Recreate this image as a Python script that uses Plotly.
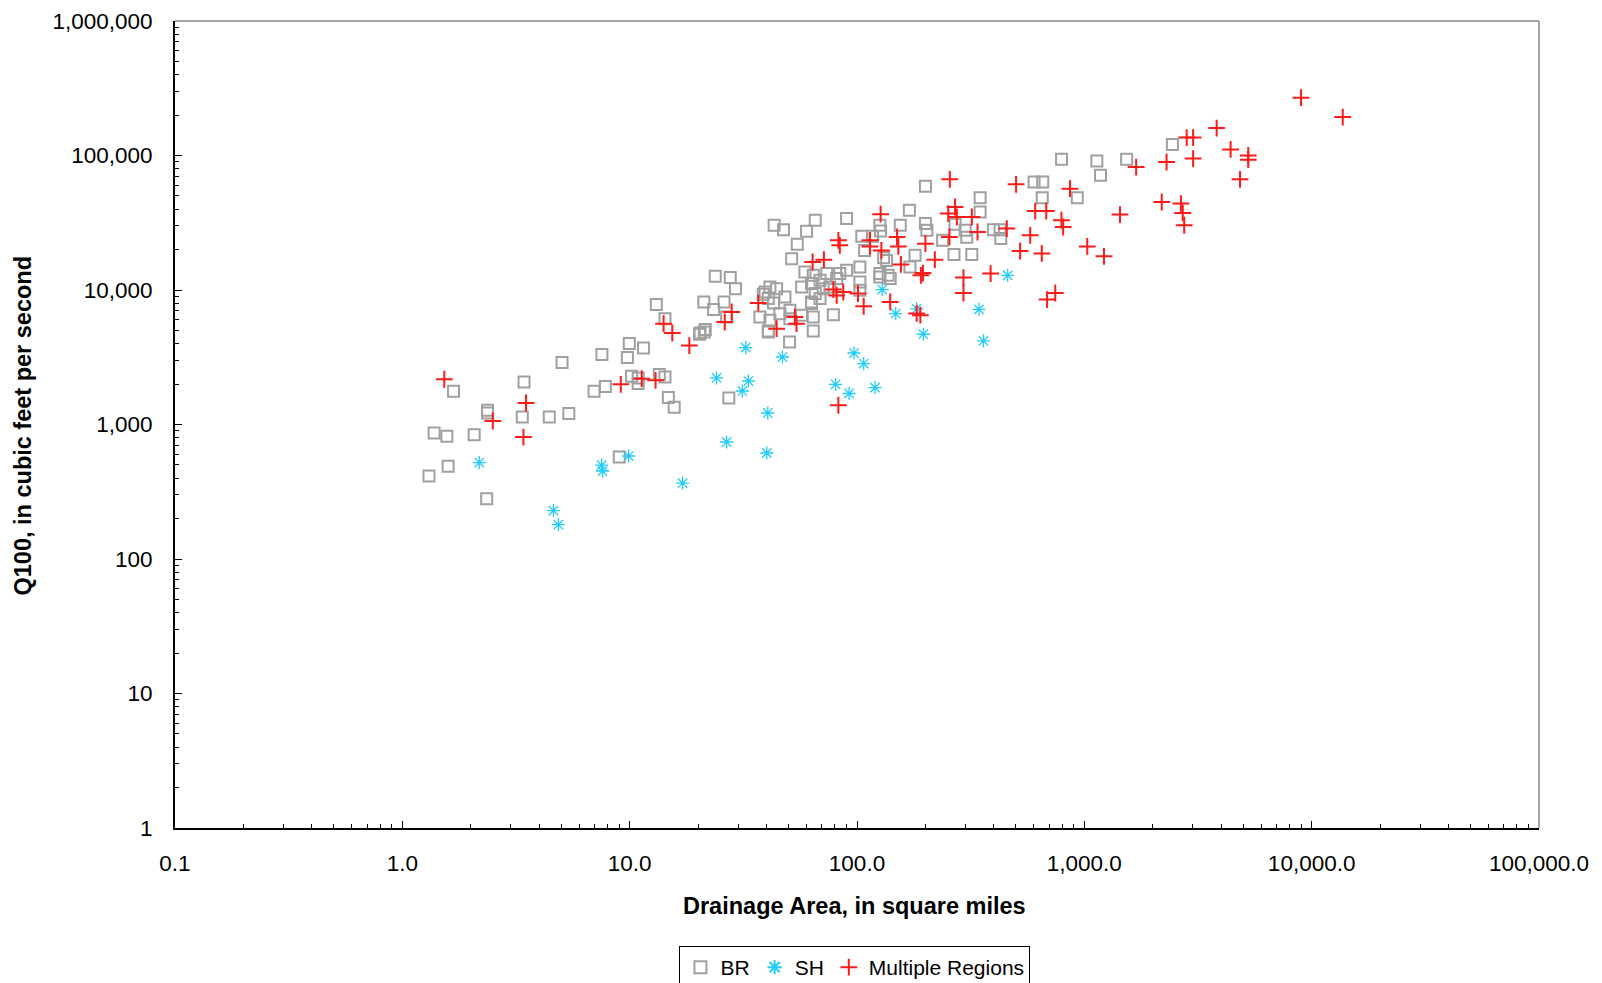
import plotly.graph_objects as go

# ---- data (drainage area sq mi, Q100 cfs) ----
br_area = [1.68, 2.37, 2.37, 3.43, 3.37, 4.43, 5.40, 5.04, 1.38, 1.57, 2.07, 1.31, 1.59, 2.35, 9.0,
           27.3, 50.5, 40.8, 7.55, 9.96, 11.5, 9.77, 6.97, 7.82, 10.2, 10.9, 10.9, 13.5, 14.3, 14.8,
           15.7, 20.3, 21.3, 13.1, 14.3,
           200, 601, 656, 1178, 653, 931, 348, 348, 170, 90, 65.5, 43.2, 47.5, 60, 54.6, 51.6,
           105, 117, 127, 126, 155, 200, 203, 299, 238, 398, 426, 429, 267, 320, 108, 131, 135,
           180, 171, 126, 137, 140, 126, 103, 103, 90, 84, 81.4, 73.6, 68.8, 64.2, 63.1, 59, 57.1,
           76, 71, 65.5, 68.8, 63.1, 103, 78.7, 64.2,
           23.8, 27.7, 29.2, 21.2, 23.4, 26, 20.4, 21.5, 26.7,
           39.4, 41.4, 44.3, 40.7, 42.9, 38.7, 48.2, 37.4, 41.4, 45.8, 40.7, 50.7, 57, 64.2, 63.1, 50.7,
           794, 1135, 1535, 2440, 270, 304]
br_q100 = [1766, 1276, 1220, 2070, 1137, 1137, 1205, 2886, 865, 817, 840, 414, 489, 281, 573,
           1574, 4105, 4877, 3311, 3994, 3703, 3143, 1766, 1914, 2280, 2218, 2018, 2350, 2255, 1585,
           1342, 4688, 4877, 7790, 6120,
           59000, 63500, 63500, 71300, 48600, 48600, 48600, 38000, 39100, 33950, 33000, 30300, 28100,
           27300, 21900, 17100,
           25100, 25100, 27500, 30300, 30300, 31200, 27800, 27800, 23400, 28100, 28100, 24100, 18400,
           18400, 19700, 17400, 16600,
           18100, 14800, 13250, 12850, 12150, 12500, 14800, 11450, 14000, 13250, 12150, 13250, 11800,
           12850, 11160, 13600, 10520,
           10520, 10230, 9400, 8630, 7920, 9950, 6560, 4960,
           12650, 12360, 10230, 8150, 7150, 8150, 4790, 5080, 6300,
           9660, 10520, 10230, 8630, 8000, 9300, 8870, 6300, 5950, 6670, 4960, 6120, 6490, 6300, 8150, 7060,
           93800, 91000, 93800, 120500, 30800, 24700]

sh_area = [2.18, 4.62, 4.86, 7.53, 7.60, 9.9, 17.1, 26.7, 40.1, 40.5, 32.4, 47, 24.1, 33.3, 31.3,
           460, 344, 360, 183, 196, 148, 129, 97, 107, 120, 80.5, 92.3]
sh_q100 = [521, 229, 180, 498, 451, 583, 366, 741, 614, 1218, 3730, 3175, 2218, 2105, 1775,
           12850, 7180, 4180, 7250, 4690, 6670, 10070, 3400, 2840, 1880, 1990, 1700]

mr_area = [1.53, 2.50, 3.50, 3.41, 9.14, 11.3, 13.0, 15.4, 18.3, 14.1,
           256, 501, 865, 270, 252, 275, 320, 339, 255, 608, 680, 793, 807, 456, 578, 522, 650, 1030,
           127, 200, 220, 150, 152, 114, 114, 128, 156, 191, 195, 294, 294, 387, 686, 745, 183, 190,
           140, 107, 101, 87, 78.7, 81.4, 82.8, 84, 71.5, 63.8, 53.3, 54.2, 44.3, 36.8, 28.1, 26.2, 82.8,
           8980, 13700, 3820, 2820, 3010, 4400, 5260, 5260, 3010, 2300, 1690, 4840, 2190, 2660, 2710,
           2750, 1435, 1220]
mr_q100 = [2170, 1062, 1445, 807, 1990, 2190, 2130, 4790, 3860, 5620,
           66500, 61100, 56700, 41400, 37000, 34900, 34900, 27000, 24800, 38600, 38600, 33000, 29400,
           28600, 25500, 19500, 18700, 21100,
           36600, 22100, 16800, 24800, 21100, 23400, 21100, 19700, 15500, 12850, 13360, 12360, 9500,
           13250, 8490, 9500, 6700, 6500,
           8150, 7570, 9400, 9660, 10070, 9120, 23400, 21500, 16800, 16150, 6300, 5620, 5160, 8000,
           6860, 5780, 1390,
           269000, 193000, 160000, 136000, 136000, 111000, 100000, 93100, 94800, 89500, 82000, 66500,
           45100, 43900, 37400, 30300, 36400, 17800]

x_tickvals = [0.1, 1, 10, 100, 1000, 10000, 100000]
x_ticktext = ["0.1", "1.0", "10.0", "100.0", "1,000.0", "10,000.0", "100,000.0"]
y_tickvals = [1, 10, 100, 1000, 10000, 100000, 1000000]
y_ticktext = ["1", "10", "100", "1,000", "10,000", "100,000", "1,000,000"]

FONT = "Liberation Sans, Arial, sans-serif"

fig = go.Figure()
fig.add_trace(go.Scatter(
    x=br_area, y=br_q100, mode="markers", name="BR",
    marker=dict(symbol="square-open", size=11, color="#a0a0a0", line=dict(width=2, color="#a0a0a0"))))
fig.add_trace(go.Scatter(
    x=sh_area, y=sh_q100, mode="markers", name="SH",
    marker=dict(symbol="asterisk-open", size=11, color="#22ccff", line=dict(width=1.3, color="#22ccff"))))
fig.add_trace(go.Scatter(
    x=mr_area, y=mr_q100, mode="markers", name="Multiple Regions",
    marker=dict(symbol="cross-thin-open", size=12, color="#ff1a1a", line=dict(width=2, color="#ff1a1a"))))

axis_common = dict(
    type="log", showgrid=False, zeroline=False, showline=True, linecolor="black", linewidth=2,
    ticks="inside", ticklen=7, tickcolor="black", tickwidth=1, mirror=False, automargin=False,
    tickfont=dict(family=FONT, size=22.5, color="black"),
    minor=dict(ticks="inside", ticklen=4, tickcolor="black", tickwidth=1, showgrid=False, dtick="D1"),
)

fig.update_xaxes(range=[-1, 5], tickmode="array", tickvals=x_tickvals, ticktext=x_ticktext,
                 ticklabelstandoff=14, **axis_common)
fig.update_yaxes(range=[0, 6], tickmode="array", tickvals=y_tickvals, ticktext=y_ticktext,
                 ticklabelstandoff=16, **axis_common)

fig.add_shape(type="line", xref="paper", yref="paper", x0=0, x1=1, y0=1, y1=1,
              line=dict(color="#888888", width=1.5))
fig.add_shape(type="line", xref="paper", yref="paper", x0=1, x1=1, y0=0, y1=1,
              line=dict(color="#888888", width=1.5))

fig.add_annotation(text="<b>Drainage Area, in square miles</b>", xref="paper", yref="paper",
                   x=0.4985, y=(828 - 906) / 807, showarrow=False, xanchor="center", yanchor="middle",
                   font=dict(family=FONT, size=23.5, color="black"))
fig.add_annotation(text="<b>Q100, in cubic feet per second</b>", xref="paper", yref="paper",
                   x=(22.5 - 175) / 1364, y=(828 - 426) / 807, showarrow=False, textangle=-90,
                   xanchor="center", yanchor="middle",
                   font=dict(family=FONT, size=23.5, color="black"))

fig.update_layout(
    width=1602, height=983,
    margin=dict(l=175, r=63, t=21, b=155, autoexpand=False),
    paper_bgcolor="white", plot_bgcolor="white",
    showlegend=True,
    legend=dict(orientation="h", x=0.4985, xanchor="center", yref="container", y=1 - 946 / 983,
                yanchor="top",
                bordercolor="black", borderwidth=1, bgcolor="white",
                font=dict(family=FONT, size=21, color="black"),
                itemsizing="constant", itemwidth=30, tracegroupgap=0),
)

fig.write_html("out.html")
